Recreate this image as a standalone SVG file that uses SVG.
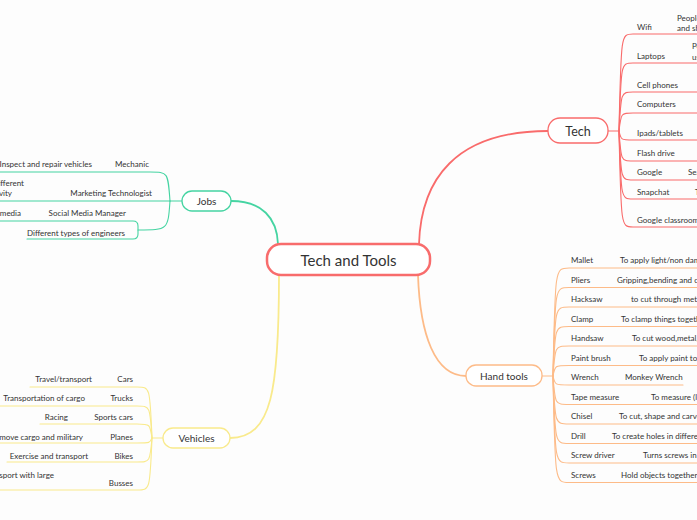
<svg xmlns="http://www.w3.org/2000/svg" width="697" height="520" viewBox="0 0 697 520">
<style>
text{font-family:Lato,"Noto Sans","Liberation Sans",sans-serif;fill:#333}
.s{font-size:8px}
.m{font-size:10px}
.c{fill:none;stroke-linecap:round}
.tech{stroke:#F96B6B}
.hand{stroke:#FDBB88}
.jobs{stroke:#45D4A2}
.veh{stroke:#F9EA8C}
.th{stroke-width:1.8}
.tn{stroke-width:1.1}
</style>
<rect width="697" height="520" fill="#FDFDFD"/>
<g id="connectors">
<path class="c tech th" d="M419,244 C421,180 455,131 548,131"/>
<path class="c hand th" d="M418,275 C420,335 435,376 466,376"/>
<path class="c jobs th" d="M278,244 C277,218 262,201 231,201"/>
<path class="c veh th" d="M279,275 C279,390 272,438 230,438"/>
<g class="c tech tn">
<path d="M608,131 L619,131"/>
<path d="M619,131 C621,34 621,34 633,34 L697,34"/>
<path d="M619,131 C621,63 621,63 633,63 L697,63"/>
<path d="M619,131 C621,92 621,92 633,92 L697,92"/>
<path d="M619,131 C621,113 621,113 633,113 L697,113"/>
<path d="M619,131 C621,140 621,140 633,140 L697,140"/>
<path d="M619,131 C621,161 621,161 633,161 L697,161"/>
<path d="M619,131 C621,180 621,180 633,180 L697,180"/>
<path d="M619,131 C621,199 621,199 633,199 L697,199"/>
<path d="M619,131 C621,227 621,227 633,227 L697,227"/>
</g>
<g class="c hand tn">
<path d="M542,376 L553,376"/>
<path d="M553,376 C555,268 555,268 569,268 L697,268"/>
<path d="M553,376 C555,287.5 555,287.5 569,287.5 L697,287.5"/>
<path d="M553,376 C555,307 555,307 569,307 L697,307"/>
<path d="M553,376 C555,326.5 555,326.5 569,326.5 L697,326.5"/>
<path d="M553,376 C555,346 555,346 569,346 L697,346"/>
<path d="M553,376 C555,365.5 555,365.5 569,365.5 L697,365.5"/>
<path d="M553,376 C555,385 555,385 569,385 L683,385"/>
<path d="M553,376 C555,404.5 555,404.5 569,404.5 L697,404.5"/>
<path d="M553,376 C555,424 555,424 569,424 L697,424"/>
<path d="M553,376 C555,443.5 555,443.5 569,443.5 L697,443.5"/>
<path d="M553,376 C555,463 555,463 569,463 L697,463"/>
<path d="M553,376 C555,482.5 555,482.5 569,482.5 L697,482.5"/>
</g>
<g class="c jobs tn">
<path d="M182,201 L170,201"/>
<path d="M170,201 C168,172 168,172 150,172 L0,172"/>
<path d="M170,201 L0,201"/>
<path d="M170,201 C168,230 168,230 138,230"/>
<path d="M0,221 L133,221 Q138,221 138,226 L138,234 Q138,239 133,239 L27,239"/>
</g>
<g class="c veh tn">
<path d="M163,438 L152,438"/>
<path d="M152,438 C150,387 150,387 137,387 L30,387"/>
<path d="M152,438 C150,406 150,406 137,406 L0,406"/>
<path d="M152,438 C150,424 150,424 137,424 L40,424"/>
<path d="M152,438 C150,443 150,443 137,443 L0,443"/>
<path d="M152,438 C150,462 150,462 137,462 L7,462"/>
<path d="M152,438 C150,490 150,490 137,490 L0,490"/>
</g>
</g>
<g id="central">
<rect x="267" y="244" width="163" height="31" rx="14" fill="#FFFFFF" stroke="#F86C6C" stroke-width="2.5"/>
<text x="348.5" y="265.5" text-anchor="middle" font-size="15">Tech and Tools</text>
</g>
<g id="tech">
<rect x="548" y="118" width="60" height="25" rx="12" fill="#FFFFFF" stroke="#F96B6B" stroke-width="1.3"/>
<text x="578" y="135.5" text-anchor="middle" font-size="12.5">Tech</text>
</g>
<g id="tech-children" class="s">
<text x="637" y="30">Wifi</text>
<text x="677" y="21">People use it to connect</text>
<text x="677" y="31">and share</text>
<text x="637" y="59">Laptops</text>
<text x="692" y="49">People</text>
<text x="692" y="60">use</text>
<text x="637" y="88">Cell phones</text>
<text x="637" y="107">Computers</text>
<text x="637" y="136">Ipads/tablets</text>
<text x="637" y="156">Flash drive</text>
<text x="637" y="175">Google</text>
<text x="688" y="175">Search</text>
<text x="637" y="195">Snapchat</text>
<text x="695" y="195">To chat</text>
<text x="637" y="223">Google classroom</text>
</g>
<g id="hand-tools">
<rect x="466" y="365" width="76" height="21" rx="10" fill="#FFFFFF" stroke="#FDBB88" stroke-width="1.3"/>
<text x="504" y="379.5" text-anchor="middle" class="m">Hand tools</text>
</g>
<g id="hand-children" class="s">
<text x="571" y="263">Mallet</text><text x="620" y="263">To apply light/non damaging force</text>
<text x="571" y="282.5">Pliers</text><text x="617" y="282.5">Gripping,bending and cutting</text>
<text x="571" y="302">Hacksaw</text><text x="631" y="302">to cut through metal</text>
<text x="571" y="321.5">Clamp</text><text x="621" y="321.5">To clamp things together</text>
<text x="571" y="341">Handsaw</text><text x="632" y="341">To cut wood,metal,plastic</text>
<text x="571" y="360.5">Paint brush</text><text x="639" y="360.5">To apply paint to surfaces</text>
<text x="571" y="380">Wrench</text><text x="625" y="380">Monkey Wrench</text>
<text x="571" y="399.5">Tape measure</text><text x="651" y="399.5">To measure (length)</text>
<text x="571" y="419">Chisel</text><text x="619" y="419">To cut, shape and carve</text>
<text x="571" y="438.5">Drill</text><text x="612" y="438.5">To create holes in different materials</text>
<text x="571" y="458">Screw driver</text><text x="643" y="458">Turns screws in or out</text>
<text x="571" y="477.5">Screws</text><text x="621" y="477.5">Hold objects together</text>
</g>
<g id="jobs">
<rect x="182" y="191" width="49" height="20" rx="10" fill="#FFFFFF" stroke="#45D4A2" stroke-width="1.3"/>
<text x="206.5" y="204.5" text-anchor="middle" class="m">Jobs</text>
</g>
<g id="jobs-children" class="s">
<text x="149" y="167" text-anchor="end">Mechanic</text>
<text x="92" y="167" text-anchor="end">Inspect and repair vehicles</text>
<text x="152" y="196" text-anchor="end">Marketing Technologist</text>
<text x="24" y="186" text-anchor="end">different</text>
<text x="12" y="196" text-anchor="end">activity</text>
<text x="126" y="216" text-anchor="end">Social Media Manager</text>
<text x="21" y="216" text-anchor="end">media</text>
<text x="125" y="236" text-anchor="end">Different types of engineers</text>
</g>
<g id="vehicles">
<rect x="163" y="428" width="67" height="20" rx="10" fill="#FFFFFF" stroke="#F9EA8C" stroke-width="1.3"/>
<text x="196.5" y="441.5" text-anchor="middle" class="m">Vehicles</text>
</g>
<g id="vehicle-children" class="s">
<text x="133" y="382" text-anchor="end">Cars</text><text x="92" y="382" text-anchor="end">Travel/transport</text>
<text x="133" y="401" text-anchor="end">Trucks</text><text x="85" y="401" text-anchor="end">Transportation of cargo</text>
<text x="133" y="420" text-anchor="end">Sports cars</text><text x="68" y="420" text-anchor="end">Racing</text>
<text x="133" y="440" text-anchor="end">Planes</text><text x="83" y="440" text-anchor="end">move cargo and military</text>
<text x="133" y="459" text-anchor="end">Bikes</text><text x="88" y="459" text-anchor="end">Exercise and transport</text>
<text x="133" y="486" text-anchor="end">Busses</text><text x="54" y="478" text-anchor="end">sport with large</text>
</g>
</svg>
